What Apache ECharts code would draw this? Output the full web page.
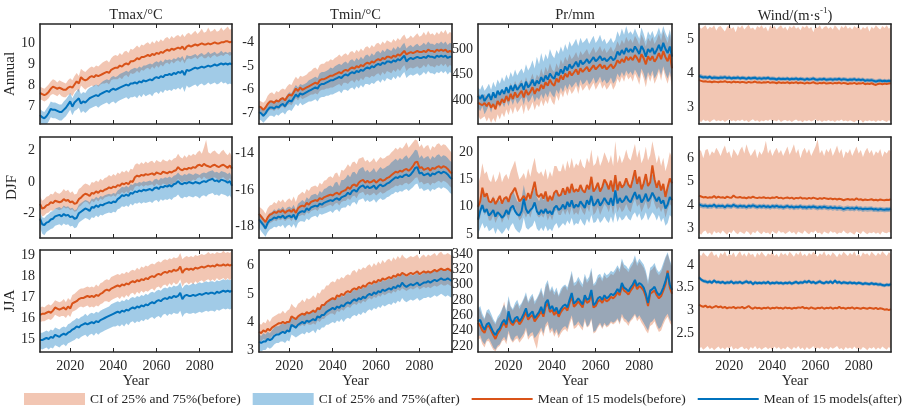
<!DOCTYPE html>
<html><head><meta charset="utf-8">
<script src="https://cdn.jsdelivr.net/npm/echarts@6/dist/echarts.min.js"></script>
<style>html,body{margin:0;padding:0;background:#fff}#c{width:909px;height:412px}</style>
</head><body><div id="c"></div>
<script>
const years = [2006,2007,2008,2009,2010,2011,2012,2013,2014,2015,2016,2017,2018,2019,2020,2021,2022,2023,2024,2025,2026,2027,2028,2029,2030,2031,2032,2033,2034,2035,2036,2037,2038,2039,2040,2041,2042,2043,2044,2045,2046,2047,2048,2049,2050,2051,2052,2053,2054,2055,2056,2057,2058,2059,2060,2061,2062,2063,2064,2065,2066,2067,2068,2069,2070,2071,2072,2073,2074,2075,2076,2077,2078,2079,2080,2081,2082,2083,2084,2085,2086,2087,2088,2089,2090,2091,2092,2093,2094,2095];
const xTicks = [2020, 2040, 2060, 2080];
const rowNames = ['Annual', 'DJF', 'JJA'];
const legendNames = ['CI of 25% and 75%(before)', 'CI of 25% and 75%(after)', 'Mean of 15 models(before)', 'Mean of 15 models(after)'];

// y tick labels
const tmaxAnnTicks = [7, 8, 9, 10];
const tminAnnTicks = [-7, -6, -5, -4];
const prAnnTicks = [400, 450, 500];
const windAnnTicks = [3, 4, 5];
const tmaxDjfTicks = [-2, 0, 2];
const tminDjfTicks = [-18, -16, -14];
const prDjfTicks = [5, 10, 15, 20];
const windDjfTicks = [3, 4, 5, 6];
const tmaxJjaTicks = [15, 16, 17, 18, 19];
const tminJjaTicks = [3, 4, 5, 6];
const prJjaTicks = [220, 240, 260, 280, 300, 320, 340];
const windJjaTicks = [2.5, 3, 3.5, 4];

// ---------- Tmax Annual ----------
const tmaxAnnMB = [7.65,7.6,7.55,7.6,7.7,7.85,7.95,7.9,7.85,7.9, 7.85,7.8,7.8,7.9,7.95,7.9,8.05,8.2,8.1,8.4, 8.3,8.25,8.3,8.4,8.45,8.4,8.5,8.45,8.5,8.55, 8.6,8.65,8.6,8.75,8.8,8.85,8.85,8.95,8.9,9.0, 9.05,9.0,9.15,9.15,9.2,9.3,9.25,9.35,9.35,9.4, 9.45,9.4,9.5,9.45,9.55,9.5,9.6,9.55,9.65,9.7, 9.65,9.75,9.7,9.75,9.8,9.75,9.85,9.7,9.85,9.9, 9.85,9.9,9.95,9.9,9.95,10.0,9.95,9.95,10.0,9.95, 10.0,10.05,10.0,10.0,10.05,10.05,10.1,10.1,10.05,10.1];
const tmaxAnnHB = [7.95,7.9,7.85,7.95,8.05,8.2,8.3,8.25,8.15,8.25, 8.2,8.15,8.1,8.25,8.35,8.25,8.45,8.6,8.45,8.8, 8.7,8.65,8.75,8.85,8.9,8.85,8.95,8.9,9.0,9.1, 9.15,9.2,9.1,9.3,9.4,9.45,9.4,9.55,9.45,9.6, 9.65,9.55,9.75,9.7,9.8,9.9,9.8,9.95,9.9,10.0, 10.05,9.95,10.1,10.0,10.15,10.05,10.2,10.1,10.25,10.3, 10.2,10.35,10.25,10.35,10.4,10.3,10.45,10.3,10.45,10.5, 10.4,10.5,10.6,10.45,10.55,10.7,10.5,10.55,10.75,10.55, 10.6,10.7,10.55,10.6,10.75,10.6,10.7,10.8,10.65,10.7];
const tmaxAnnLB = [7.35,7.3,7.25,7.3,7.4,7.55,7.6,7.55,7.5,7.6, 7.5,7.45,7.45,7.55,7.6,7.5,7.7,7.8,7.7,8.0, 7.9,7.8,7.9,7.95,8.0,7.95,8.05,7.95,8.05,8.1, 8.1,8.15,8.05,8.25,8.3,8.3,8.3,8.4,8.3,8.45, 8.5,8.4,8.6,8.55,8.6,8.7,8.6,8.75,8.7,8.8, 8.85,8.75,8.9,8.8,8.95,8.85,9.0,8.9,9.05,9.1, 9.0,9.15,9.05,9.15,9.2,9.1,9.25,9.05,9.25,9.3, 9.25,9.3,9.35,9.25,9.35,9.4,9.3,9.3,9.4,9.3, 9.4,9.45,9.35,9.4,9.45,9.4,9.5,9.5,9.4,9.5];
const tmaxAnnMA = [6.6,6.5,6.45,6.55,6.7,6.9,6.85,6.85,6.8,6.75, 6.75,6.85,6.95,7.1,7.25,7.0,7.2,7.3,7.4,7.15, 7.25,7.2,7.3,7.4,7.45,7.5,7.55,7.5,7.6,7.65, 7.7,7.75,7.7,7.8,7.85,7.8,7.85,7.9,7.95,8.0, 8.05,8.0,8.1,8.1,8.15,8.1,8.2,8.15,8.25,8.2, 8.25,8.3,8.25,8.35,8.4,8.35,8.45,8.4,8.5,8.5, 8.55,8.5,8.6,8.55,8.65,8.6,8.7,8.5,8.75,8.7, 8.75,8.8,8.85,8.8,8.85,8.9,8.85,8.9,8.95,8.9, 8.95,9.0,8.95,9.0,9.05,9.0,9.05,9.0,9.05,9.0];
const tmaxAnnHA = [6.9,6.8,6.75,6.9,7.05,7.25,7.2,7.2,7.15,7.1, 7.1,7.25,7.35,7.5,7.65,7.4,7.6,7.75,7.85,7.6, 7.7,7.65,7.8,7.9,7.95,8.0,8.05,8.0,8.1,8.2, 8.25,8.3,8.25,8.4,8.45,8.4,8.45,8.55,8.6,8.65, 8.7,8.65,8.75,8.8,8.85,8.8,8.9,8.85,8.95,8.95, 9.0,9.05,9.0,9.1,9.15,9.1,9.2,9.1,9.25,9.2, 9.25,9.2,9.3,9.25,9.35,9.3,9.4,9.2,9.45,9.4, 9.4,9.45,9.5,9.4,9.5,9.55,9.45,9.5,9.6,9.5, 9.55,9.6,9.5,9.55,9.65,9.55,9.6,9.55,9.6,9.55];
const tmaxAnnLA = [6.2,6.1,6.05,6.15,6.3,6.5,6.45,6.45,6.4,6.35, 6.35,6.45,6.55,6.7,6.85,6.6,6.8,6.85,6.95,6.7, 6.8,6.7,6.8,6.9,6.95,7.0,7.05,6.95,7.05,7.1, 7.15,7.2,7.1,7.2,7.25,7.15,7.25,7.3,7.35,7.4, 7.45,7.35,7.45,7.45,7.5,7.4,7.55,7.45,7.6,7.5, 7.55,7.6,7.5,7.65,7.7,7.6,7.75,7.65,7.8,7.75, 7.8,7.75,7.85,7.8,7.9,7.8,7.95,7.7,8.0,7.9, 7.95,8.0,8.05,7.95,8.05,8.1,8.0,8.05,8.15,8.05, 8.1,8.15,8.05,8.1,8.2,8.1,8.15,8.05,8.1,8.05];

// ---------- Tmin Annual ----------
const tminAnnMB = [-6.7,-6.75,-6.85,-6.75,-6.6,-6.5,-6.5,-6.55,-6.45,-6.5, -6.4,-6.35,-6.45,-6.3,-6.2,-6.25,-6.1,-5.95,-6.05,-5.9, -6.0,-5.95,-5.9,-5.85,-5.8,-5.75,-5.7,-5.75,-5.6,-5.55, -5.55,-5.5,-5.45,-5.4,-5.4,-5.35,-5.3,-5.25,-5.3,-5.2, -5.15,-5.2,-5.1,-5.05,-5.1,-5.0,-5.05,-4.95,-5.0,-4.9, -4.85,-4.9,-4.8,-4.85,-4.75,-4.7,-4.75,-4.65,-4.7,-4.6, -4.6,-4.65,-4.55,-4.6,-4.5,-4.55,-4.45,-4.35,-4.5,-4.45, -4.4,-4.45,-4.4,-4.35,-4.4,-4.4,-4.35,-4.4,-4.3,-4.35, -4.35,-4.4,-4.3,-4.35,-4.3,-4.35,-4.3,-4.4,-4.35,-4.4];
const tminAnnHB = [-6.45,-6.5,-6.55,-6.45,-6.25,-6.15,-6.1,-6.2,-6.05,-6.1, -6.0,-5.95,-6.0,-5.85,-5.75,-5.8,-5.6,-5.45,-5.55,-5.4, -5.45,-5.4,-5.35,-5.25,-5.2,-5.1,-5.05,-5.15,-4.95,-4.9, -4.9,-4.8,-4.8,-4.7,-4.75,-4.65,-4.6,-4.5,-4.6,-4.5, -4.45,-4.55,-4.4,-4.35,-4.45,-4.3,-4.4,-4.25,-4.35,-4.2, -4.15,-4.25,-4.1,-4.2,-4.05,-4.0,-4.1,-3.95,-4.05,-3.9, -3.95,-4.0,-3.85,-3.95,-3.8,-3.9,-3.75,-3.65,-3.85,-3.8, -3.7,-3.8,-3.7,-3.6,-3.75,-3.7,-3.55,-3.7,-3.5,-3.65, -3.6,-3.7,-3.55,-3.65,-3.5,-3.6,-3.45,-3.65,-3.55,-3.6];
const tminAnnLB = [-6.95,-7.05,-7.15,-7.05,-6.95,-6.85,-6.85,-6.9,-6.8,-6.85, -6.75,-6.7,-6.8,-6.65,-6.6,-6.65,-6.5,-6.35,-6.45,-6.3, -6.4,-6.35,-6.3,-6.25,-6.2,-6.2,-6.15,-6.2,-6.05,-6.0, -6.0,-5.95,-5.95,-5.9,-5.9,-5.85,-5.8,-5.75,-5.85,-5.7, -5.7,-5.75,-5.65,-5.6,-5.7,-5.55,-5.65,-5.5,-5.6,-5.45, -5.45,-5.5,-5.4,-5.45,-5.35,-5.3,-5.4,-5.25,-5.35,-5.2, -5.25,-5.3,-5.15,-5.25,-5.1,-5.2,-5.05,-4.95,-5.2,-5.1, -5.05,-5.1,-5.05,-5.0,-5.1,-5.05,-4.95,-5.05,-4.9,-5.0, -5.0,-5.05,-4.95,-5.0,-4.9,-5.0,-4.9,-5.05,-4.95,-5.0];
const tminAnnMA = [-6.95,-7.0,-7.1,-7.0,-6.85,-6.75,-6.75,-6.8,-6.7,-6.75, -6.65,-6.6,-6.7,-6.55,-6.45,-6.5,-6.35,-6.2,-6.3,-6.15, -6.2,-6.15,-6.1,-6.05,-6.0,-5.95,-5.9,-5.95,-5.8,-5.75, -5.75,-5.7,-5.65,-5.6,-5.6,-5.55,-5.5,-5.45,-5.5,-5.4, -5.35,-5.4,-5.3,-5.25,-5.3,-5.2,-5.25,-5.15,-5.2,-5.1, -5.05,-5.1,-5.0,-5.05,-4.95,-4.9,-4.95,-4.85,-4.9,-4.8, -4.8,-4.85,-4.75,-4.8,-4.7,-4.75,-4.65,-4.55,-4.8,-4.7, -4.65,-4.7,-4.65,-4.6,-4.65,-4.65,-4.6,-4.65,-4.55,-4.6, -4.6,-4.65,-4.55,-4.6,-4.55,-4.6,-4.55,-4.65,-4.6,-4.6];
const tminAnnHA = [-6.7,-6.75,-6.85,-6.7,-6.55,-6.45,-6.45,-6.5,-6.4,-6.45, -6.35,-6.3,-6.4,-6.2,-6.1,-6.15,-5.95,-5.8,-5.9,-5.75, -5.8,-5.75,-5.7,-5.6,-5.55,-5.5,-5.45,-5.5,-5.3,-5.25, -5.25,-5.2,-5.15,-5.05,-5.1,-5.0,-4.95,-4.9,-4.95,-4.85, -4.8,-4.9,-4.75,-4.7,-4.8,-4.65,-4.75,-4.6,-4.7,-4.55, -4.5,-4.6,-4.45,-4.55,-4.4,-4.35,-4.45,-4.3,-4.4,-4.25, -4.3,-4.35,-4.2,-4.3,-4.15,-4.25,-4.1,-4.0,-4.25,-4.15, -4.1,-4.2,-4.1,-4.05,-4.15,-4.1,-4.0,-4.1,-3.95,-4.05, -4.05,-4.1,-4.0,-4.05,-3.95,-4.05,-3.95,-4.1,-4.0,-4.05];
const tminAnnLA = [-7.25,-7.3,-7.4,-7.3,-7.2,-7.1,-7.1,-7.15,-7.05,-7.1, -7.0,-6.95,-7.05,-6.9,-6.85,-6.9,-6.75,-6.6,-6.7,-6.55, -6.65,-6.6,-6.55,-6.5,-6.5,-6.45,-6.4,-6.5,-6.35,-6.3, -6.3,-6.25,-6.25,-6.2,-6.2,-6.15,-6.1,-6.05,-6.15,-6.0, -6.0,-6.05,-5.95,-5.9,-6.0,-5.85,-5.95,-5.8,-5.9,-5.75, -5.75,-5.8,-5.7,-5.75,-5.65,-5.6,-5.7,-5.55,-5.65,-5.5, -5.55,-5.6,-5.45,-5.55,-5.4,-5.5,-5.35,-5.25,-5.5,-5.4, -5.35,-5.4,-5.35,-5.3,-5.4,-5.35,-5.25,-5.35,-5.2,-5.3, -5.3,-5.35,-5.25,-5.3,-5.2,-5.3,-5.2,-5.35,-5.25,-5.3];

// ---------- Pr Annual ----------
const prAnnMB = [395,392,390,394,388,395,385,392,382,398, 390,402,395,408,398,412,402,415,405,412, 418,405,420,410,416,425,412,422,418,430, 422,435,428,440,432,428,442,435,448,440, 452,445,456,448,454,460,450,462,455,460, 465,456,462,468,460,465,470,462,468,460, 465,470,462,468,478,472,480,474,485,478, 484,478,488,482,474,490,482,470,486,478, 486,475,482,492,480,496,484,476,490,462];
const prAnnHB = [412,410,406,412,404,414,402,410,400,416, 408,422,414,428,418,434,422,438,426,434, 440,426,445,432,440,452,436,450,444,462, 448,465,455,472,460,455,472,462,480,470, 485,476,490,480,486,494,482,496,488,494, 500,488,496,504,492,498,506,494,502,492, 498,505,494,502,515,506,518,510,524,514, 520,512,526,518,508,528,518,505,522,514, 524,510,518,530,516,535,522,512,530,505];
const prAnnLB = [370,362,365,368,358,366,355,365,356,372, 362,375,366,382,370,385,372,388,376,382, 390,372,392,378,385,396,380,392,386,400, 388,400,392,408,396,390,410,398,415,405, 420,408,422,412,418,428,412,430,418,424, 430,418,426,434,420,428,436,422,430,420, 426,434,420,428,442,434,446,436,450,440, 446,436,452,442,430,455,442,425,448,436, 450,432,442,456,438,460,444,432,450,425];
const prAnnMA = [408,402,410,398,405,412,400,415,404,418, 410,420,412,425,414,428,418,430,420,426, 432,420,436,425,430,440,428,438,432,445, 436,448,440,452,445,442,455,448,460,452, 466,458,470,462,468,475,465,478,470,474, 480,472,478,484,476,480,486,478,482,476, 480,485,478,482,495,488,498,490,502,494, 500,494,505,498,490,506,498,485,500,494, 502,490,498,508,496,512,500,492,505,485];
const prAnnHA = [425,420,430,418,424,432,420,436,425,440, 432,445,436,450,440,455,445,460,448,456, 462,452,470,458,465,478,462,485,470,492, 475,490,480,500,488,482,498,490,505,494, 510,498,515,505,512,520,506,522,512,516, 522,510,518,526,512,518,528,514,520,510, 515,522,512,518,535,524,540,528,545,530, 535,528,540,530,520,542,530,515,535,526, 536,522,530,542,528,545,532,522,538,515];
const prAnnLA = [385,378,388,372,380,390,375,392,380,395, 385,395,386,400,388,402,390,404,392,398, 405,390,408,395,400,410,396,406,400,412, 402,414,405,418,410,405,420,412,425,415, 430,420,432,424,430,436,424,440,430,434, 440,430,436,444,432,438,446,434,440,432, 436,444,432,438,452,444,455,446,458,450, 456,448,460,452,442,462,452,438,455,446, 458,442,450,462,448,466,452,442,456,435];

// ---------- Wind Annual ----------
const windAnnMB = [3.8,3.78,3.76,3.77,3.75,3.76,3.74,3.76,3.75,3.74, 3.76,3.75,3.77,3.74,3.75,3.73,3.76,3.74,3.75,3.73, 3.75,3.74,3.72,3.75,3.73,3.74,3.76,3.73,3.74,3.72, 3.74,3.73,3.75,3.72,3.74,3.73,3.71,3.74,3.72,3.73, 3.72,3.74,3.71,3.73,3.72,3.74,3.71,3.73,3.72,3.7, 3.73,3.71,3.72,3.74,3.71,3.7,3.72,3.71,3.73,3.7, 3.71,3.72,3.7,3.72,3.71,3.73,3.7,3.72,3.71,3.69, 3.71,3.7,3.72,3.69,3.71,3.7,3.72,3.68,3.7,3.69, 3.71,3.68,3.66,3.69,3.7,3.68,3.7,3.69,3.7,3.71];
const windAnnHB = [5.38,5.3,5.35,5.4,5.28,5.36,5.32,5.4,5.25,5.35, 5.38,5.3,5.22,5.36,5.4,5.3,5.35,5.2,5.38,5.32, 5.4,5.28,5.35,5.42,5.3,5.34,5.26,5.38,5.33,5.4, 5.3,5.36,5.22,5.4,5.32,5.38,5.28,5.35,5.4,5.3, 5.36,5.25,5.38,5.32,5.4,5.3,5.35,5.26,5.38,5.33, 5.4,5.3,5.36,5.2,5.38,5.32,5.4,5.28,5.35,5.38, 5.3,5.36,5.28,5.4,5.33,5.25,5.38,5.32,5.4,5.3, 5.35,5.28,5.38,5.32,5.4,5.26,5.35,5.3,5.38,5.22, 5.36,5.3,5.4,5.33,5.28,5.38,5.32,5.4,5.3,5.36];
const windAnnLB = [2.62,2.58,2.65,2.6,2.63,2.57,2.62,2.66,2.6,2.63, 2.6,2.64,2.58,2.62,2.66,2.6,2.63,2.59,2.64,2.61, 2.65,2.6,2.63,2.57,2.62,2.66,2.6,2.63,2.58,2.62, 2.6,2.64,2.61,2.66,2.59,2.63,2.6,2.65,2.58,2.62, 2.64,2.6,2.63,2.58,2.62,2.65,2.6,2.62,2.57,2.63, 2.6,2.64,2.59,2.62,2.66,2.6,2.63,2.58,2.62,2.6, 2.64,2.6,2.62,2.58,2.63,2.61,2.65,2.6,2.62,2.59, 2.63,2.6,2.57,2.62,2.6,2.64,2.56,2.62,2.6,2.63, 2.6,2.62,2.58,2.63,2.6,2.64,2.61,2.58,2.63,2.6];
const windAnnMA = [3.92,3.9,3.88,3.89,3.87,3.9,3.86,3.88,3.87,3.86, 3.88,3.87,3.89,3.86,3.88,3.85,3.87,3.86,3.88,3.85, 3.87,3.86,3.84,3.87,3.85,3.86,3.87,3.84,3.86,3.84, 3.86,3.85,3.87,3.84,3.85,3.84,3.82,3.85,3.83,3.84, 3.83,3.85,3.82,3.84,3.83,3.85,3.82,3.84,3.83,3.81, 3.84,3.82,3.83,3.85,3.82,3.81,3.83,3.82,3.84,3.81, 3.82,3.83,3.81,3.83,3.82,3.84,3.81,3.83,3.82,3.8, 3.82,3.81,3.83,3.8,3.82,3.8,3.82,3.78,3.8,3.79, 3.8,3.78,3.76,3.78,3.79,3.77,3.78,3.77,3.78,3.77];
const windAnnHA = [3.98,3.97,3.94,3.95,3.93,3.96,3.92,3.94,3.93,3.92, 3.94,3.93,3.95,3.92,3.94,3.91,3.93,3.92,3.94,3.91, 3.93,3.92,3.9,3.93,3.91,3.92,3.93,3.9,3.92,3.9, 3.92,3.91,3.93,3.9,3.91,3.9,3.88,3.91,3.89,3.9, 3.89,3.91,3.88,3.9,3.89,3.91,3.88,3.9,3.89,3.87, 3.9,3.88,3.89,3.91,3.88,3.87,3.89,3.88,3.9,3.87, 3.88,3.89,3.87,3.89,3.88,3.9,3.87,3.89,3.88,3.86, 3.88,3.87,3.89,3.86,3.88,3.86,3.88,3.84,3.86,3.85, 3.86,3.84,3.82,3.84,3.85,3.83,3.84,3.83,3.84,3.83];
const windAnnLA = [3.86,3.84,3.82,3.83,3.81,3.84,3.8,3.82,3.81,3.8, 3.82,3.81,3.83,3.8,3.82,3.79,3.81,3.8,3.82,3.79, 3.81,3.8,3.78,3.81,3.79,3.8,3.81,3.78,3.8,3.78, 3.8,3.79,3.81,3.78,3.79,3.78,3.76,3.79,3.77,3.78, 3.77,3.79,3.76,3.78,3.77,3.79,3.76,3.78,3.77,3.75, 3.78,3.76,3.77,3.79,3.76,3.75,3.77,3.76,3.78,3.75, 3.76,3.77,3.75,3.77,3.76,3.78,3.75,3.77,3.76,3.74, 3.76,3.75,3.77,3.74,3.76,3.74,3.76,3.72,3.74,3.73, 3.74,3.72,3.7,3.72,3.73,3.71,3.72,3.71,3.72,3.71];

// ---------- Tmax DJF ----------
const tmaxDjfMB = [-1.4,-1.7,-1.65,-1.5,-1.45,-1.3,-1.35,-1.2,-1.25,-1.3, -1.25,-1.1,-1.2,-1.15,-1.3,-1.25,-1.4,-1.35,-1.1,-1.0, -0.85,-0.75,-0.8,-0.9,-0.7,-0.75,-0.6,-0.7,-0.55,-0.6, -0.5,-0.45,-0.35,-0.4,-0.3,-0.35,-0.2,-0.25,-0.1,-0.15, -0.05,-0.15,0.05,0.0,0.3,0.4,0.35,0.45,0.4,0.5, 0.45,0.5,0.55,0.45,0.6,0.55,0.5,0.65,0.6,0.55, 0.65,0.6,0.7,0.75,0.95,0.8,0.75,0.85,0.8,0.9, 0.85,0.95,0.9,1.05,1.1,1.0,1.15,1.05,1.0,0.95, 1.05,1.1,1.0,0.95,1.05,1.1,1.0,0.9,1.05,0.85];
const tmaxDjfHB = [-0.9,-1.2,-1.1,-0.95,-0.9,-0.75,-0.8,-0.6,-0.7,-0.75, -0.65,-0.45,-0.6,-0.5,-0.7,-0.6,-0.8,-0.75,-0.45,-0.35, -0.2,-0.1,-0.15,-0.25,0.0,-0.05,0.1,0.0,0.2,0.1, 0.25,0.3,0.45,0.35,0.5,0.4,0.6,0.5,0.7,0.6, 0.75,0.6,0.85,0.8,1.1,1.2,1.1,1.25,1.15,1.3, 1.2,1.3,1.35,1.2,1.4,1.3,1.25,1.45,1.35,1.3, 1.45,1.35,1.5,1.55,1.8,1.6,1.5,1.7,1.55,1.75, 1.65,1.8,1.7,1.9,2.0,1.8,2.2,2.7,1.9,1.8, 1.95,2.0,1.85,1.75,1.95,2.05,1.85,1.7,1.9,1.6];
const tmaxDjfLB = [-1.9,-2.2,-2.15,-2.0,-1.95,-1.8,-1.85,-1.7,-1.75,-1.8, -1.75,-1.6,-1.7,-1.65,-1.8,-1.75,-1.9,-1.85,-1.6,-1.5, -1.35,-1.25,-1.3,-1.45,-1.2,-1.3,-1.1,-1.25,-1.05,-1.15, -1.0,-0.95,-0.9,-0.95,-0.85,-0.95,-0.75,-0.8,-0.65,-0.75, -0.6,-0.75,-0.5,-0.6,-0.3,-0.25,-0.3,-0.2,-0.3,-0.2, -0.25,-0.2,-0.15,-0.3,-0.1,-0.2,-0.25,-0.1,-0.15,-0.25, -0.1,-0.2,-0.05,0.0,0.2,0.05,-0.05,0.1,0.0,0.1, 0.05,0.15,0.1,0.25,0.3,0.15,0.35,0.2,0.2,0.1, 0.25,0.3,0.2,0.1,0.25,0.3,0.15,0.05,0.25,0.0];
const tmaxDjfMA = [-2.35,-2.7,-2.75,-2.6,-2.55,-2.4,-2.35,-2.2,-2.15,-2.1, -2.2,-2.05,-2.15,-2.1,-2.25,-2.2,-2.35,-2.3,-2.0,-1.9, -1.8,-1.7,-1.75,-1.85,-1.6,-1.65,-1.5,-1.6,-1.45,-1.5, -1.4,-1.35,-1.3,-1.35,-1.25,-1.3,-1.1,-1.0,-0.85,-0.9, -0.8,-0.9,-0.7,-0.75,-0.6,-0.65,-0.55,-0.6,-0.5,-0.55, -0.5,-0.45,-0.55,-0.4,-0.35,-0.45,-0.3,-0.35,-0.25,-0.3, -0.2,-0.3,-0.15,-0.1,0.05,-0.1,-0.15,-0.05,-0.1,0.0, -0.05,-0.1,0.0,-0.05,-0.1,0.0,0.05,0.0,0.1,0.15, 0.2,0.05,0.1,0.0,0.15,0.1,0.05,-0.05,0.05,-0.25];
const tmaxDjfHA = [-1.9,-2.25,-2.3,-2.15,-2.05,-1.9,-1.85,-1.7,-1.65,-1.6, -1.7,-1.5,-1.6,-1.55,-1.7,-1.65,-1.8,-1.75,-1.45,-1.35, -1.25,-1.15,-1.2,-1.3,-1.05,-1.1,-0.95,-1.05,-0.9,-0.95, -0.85,-0.8,-0.75,-0.8,-0.7,-0.75,-0.55,-0.45,-0.3,-0.35, -0.25,-0.35,-0.15,-0.2,-0.05,-0.1,0.0,-0.05,0.05,0.0, 0.05,0.1,0.0,0.15,0.2,0.1,0.25,0.2,0.3,0.25, 0.35,0.25,0.4,0.45,0.6,0.45,0.4,0.5,0.45,0.55, 0.5,0.45,0.55,0.5,0.45,0.55,0.6,0.55,0.65,0.7, 0.75,0.6,0.65,0.55,0.7,0.65,0.6,0.5,0.6,0.3];
const tmaxDjfLA = [-2.9,-3.3,-3.4,-3.2,-3.1,-3.0,-2.95,-2.8,-2.75,-2.7, -2.8,-2.65,-2.75,-2.7,-2.85,-2.8,-2.95,-2.9,-2.6,-2.5, -2.4,-2.3,-2.35,-2.45,-2.25,-2.3,-2.15,-2.25,-2.1,-2.15, -2.05,-2.0,-1.95,-2.0,-1.9,-1.95,-1.75,-1.7,-1.55,-1.6, -1.5,-1.6,-1.4,-1.5,-1.35,-1.4,-1.3,-1.4,-1.3,-1.35, -1.3,-1.25,-1.35,-1.2,-1.15,-1.3,-1.1,-1.2,-1.1,-1.15, -1.05,-1.15,-1.0,-0.95,-0.8,-1.0,-1.05,-0.95,-1.0,-0.9, -0.95,-1.0,-0.9,-0.95,-1.05,-0.9,-0.85,-0.95,-0.8,-0.75, -0.7,-0.85,-0.8,-0.9,-0.75,-0.8,-0.85,-0.95,-0.85,-1.15];

// ---------- Tmin DJF ----------
const tminDjfMB = [-17.3,-17.45,-17.6,-17.75,-17.5,-17.35,-17.3,-17.2,-17.25,-17.15, -17.2,-17.1,-17.25,-17.15,-17.1,-17.2,-17.05,-17.25,-17.0,-16.9, -16.85,-16.9,-16.7,-16.8,-16.65,-16.6,-16.55,-16.6,-16.45,-16.5, -16.4,-16.35,-16.3,-16.25,-16.3,-16.2,-16.15,-16.25,-16.1,-16.05, -16.0,-15.85,-15.95,-15.75,-15.7,-15.8,-15.6,-15.5,-15.45,-15.6, -15.5,-15.6,-15.55,-15.45,-15.6,-15.5,-15.4,-15.5,-15.45,-15.35, -15.3,-15.2,-15.1,-15.0,-15.05,-14.95,-15.0,-14.9,-14.85,-14.95, -14.85,-14.7,-14.5,-14.45,-14.8,-14.75,-14.9,-14.85,-14.8,-14.95, -14.8,-14.85,-14.75,-14.7,-14.8,-14.7,-14.75,-14.85,-15.0,-15.1];
const tminDjfHB = [-16.9,-17.0,-17.1,-17.3,-17.0,-16.85,-16.8,-16.65,-16.75,-16.55, -16.65,-16.5,-16.7,-16.55,-16.45,-16.6,-16.35,-16.65,-16.3,-16.2, -16.1,-16.2,-15.95,-16.05,-15.85,-15.8,-15.75,-15.85,-15.6,-15.7, -15.5,-15.45,-15.3,-15.25,-15.35,-15.1,-15.05,-15.3,-14.9,-14.95, -14.8,-14.6,-14.75,-14.5,-14.45,-14.6,-14.3,-14.25,-14.2,-14.45, -14.35,-14.5,-14.4,-14.25,-14.5,-14.35,-14.2,-14.3,-14.25,-14.15, -14.1,-13.95,-13.85,-13.7,-13.8,-13.65,-13.75,-13.6,-13.4,-13.7, -13.55,-13.4,-13.25,-13.3,-13.65,-13.5,-13.75,-13.6,-13.55,-13.85, -13.6,-13.7,-13.5,-13.45,-13.6,-13.5,-13.55,-13.7,-13.85,-14.0];
const tminDjfLB = [-17.7,-17.9,-18.05,-18.2,-17.95,-17.8,-17.75,-17.65,-17.7,-17.6, -17.65,-17.55,-17.7,-17.6,-17.55,-17.7,-17.5,-17.75,-17.45,-17.4, -17.35,-17.4,-17.2,-17.3,-17.15,-17.1,-17.05,-17.15,-16.95,-17.0, -16.95,-16.9,-16.85,-16.8,-16.9,-16.75,-16.7,-16.85,-16.65,-16.6, -16.6,-16.45,-16.55,-16.35,-16.3,-16.45,-16.2,-16.15,-16.1,-16.3, -16.2,-16.3,-16.25,-16.15,-16.3,-16.2,-16.1,-16.2,-16.15,-16.05, -16.0,-15.9,-15.85,-15.75,-15.8,-15.7,-15.75,-15.65,-15.6,-15.7, -15.6,-15.5,-15.35,-15.3,-15.6,-15.55,-15.7,-15.65,-15.6,-15.75, -15.6,-15.65,-15.55,-15.5,-15.6,-15.5,-15.55,-15.65,-15.8,-15.9];
const tminDjfMA = [-17.6,-17.75,-17.9,-18.1,-17.8,-17.65,-17.6,-17.5,-17.55,-17.45, -17.5,-17.4,-17.55,-17.45,-17.4,-17.5,-17.35,-17.6,-17.3,-17.2, -17.15,-17.2,-17.0,-17.1,-16.95,-16.9,-16.85,-16.9,-16.75,-16.8, -16.7,-16.65,-16.6,-16.55,-16.6,-16.5,-16.45,-16.55,-16.4,-16.35, -16.3,-16.15,-16.25,-16.05,-16.0,-16.1,-15.9,-15.8,-15.75,-15.9, -15.8,-15.9,-15.85,-15.75,-15.95,-15.8,-15.7,-15.8,-15.75,-15.65, -15.6,-15.5,-15.4,-15.3,-15.35,-15.25,-15.3,-15.2,-15.15,-15.25, -15.15,-15.0,-14.8,-14.75,-15.1,-15.05,-15.2,-15.15,-15.1,-15.25, -15.1,-15.15,-15.05,-15.0,-15.1,-15.0,-15.05,-15.15,-15.3,-15.4];
const tminDjfHA = [-17.25,-17.35,-17.5,-17.7,-17.4,-17.25,-17.2,-17.05,-17.15,-17.0, -17.05,-16.9,-17.1,-16.95,-16.9,-17.0,-16.8,-17.1,-16.75,-16.65, -16.55,-16.65,-16.4,-16.5,-16.3,-16.25,-16.2,-16.3,-16.05,-16.15, -15.95,-15.9,-15.8,-15.75,-15.85,-15.6,-15.55,-15.8,-15.45,-15.45, -15.35,-15.15,-15.3,-15.05,-15.0,-15.15,-14.9,-14.8,-14.75,-15.0, -14.9,-15.05,-14.95,-14.8,-15.05,-14.9,-14.75,-14.85,-14.8,-14.7, -14.65,-14.5,-14.4,-14.3,-14.4,-14.25,-14.35,-14.2,-14.1,-14.3, -14.15,-14.0,-13.8,-13.85,-14.25,-14.1,-14.3,-14.2,-14.15,-14.35, -14.15,-14.25,-14.1,-14.05,-14.2,-14.1,-14.15,-14.25,-14.4,-14.5];
const tminDjfLA = [-18.05,-18.25,-18.4,-18.55,-18.3,-18.15,-18.1,-18.0,-18.05,-17.95, -18.0,-17.9,-18.1,-17.95,-17.9,-18.05,-17.85,-18.1,-17.8,-17.7, -17.7,-17.75,-17.55,-17.65,-17.5,-17.45,-17.4,-17.5,-17.3,-17.35, -17.3,-17.25,-17.2,-17.15,-17.25,-17.1,-17.05,-17.2,-17.0,-16.95, -16.95,-16.8,-16.9,-16.7,-16.65,-16.8,-16.55,-16.5,-16.45,-16.65, -16.55,-16.65,-16.6,-16.5,-16.7,-16.55,-16.45,-16.55,-16.5,-16.4, -16.35,-16.25,-16.2,-16.1,-16.15,-16.05,-16.1,-16.0,-15.95,-16.05, -15.95,-15.85,-15.7,-15.65,-15.95,-15.9,-16.05,-16.0,-15.95,-16.1, -15.95,-16.0,-15.9,-15.85,-15.95,-15.85,-15.9,-16.0,-16.15,-16.25];

// ---------- Pr DJF ----------
const prDjfMB = [10.0,11.0,13.5,11.8,12.5,11.0,10.8,11.6,10.5,11.2, 12.0,10.6,11.5,11.8,10.9,12.2,12.8,13.5,12.2,11.0, 11.4,12.0,11.2,12.5,11.5,13.0,14.6,12.2,11.8,12.4, 11.5,12.8,11.0,12.0,11.2,12.6,13.0,12.0,12.2,13.4, 12.2,13.6,12.5,14.2,12.7,13.2,12.8,14.0,13.0,12.6, 14.0,13.2,15.5,12.8,13.4,14.4,12.8,13.6,15.0,14.3, 13.2,14.8,12.8,15.8,13.0,14.6,13.5,14.0,15.2,14.0, 13.5,15.0,16.7,14.2,15.5,13.2,14.3,16.0,13.8,14.5, 17.6,15.0,13.5,14.8,13.0,14.2,11.8,13.6,15.2,14.3];
const prDjfHB = [14.0,15.5,18.0,16.0,16.5,15.0,14.5,16.0,14.5,15.2, 16.5,14.5,15.5,16.0,15.0,16.5,17.5,18.5,16.5,15.0, 15.5,16.2,15.0,17.0,15.5,17.5,19.0,16.5,16.0,16.5, 15.5,17.0,15.0,16.5,15.5,17.5,17.5,16.5,16.5,18.0, 16.5,18.5,17.0,19.0,17.0,18.0,17.5,18.8,17.5,17.0, 19.0,18.0,20.5,17.5,18.0,19.5,17.5,18.5,20.0,19.0, 18.0,19.5,17.5,22.0,18.0,19.5,18.0,19.0,20.5,19.0, 18.5,20.0,21.5,19.0,20.5,18.0,19.0,21.0,18.5,19.5, 22.0,20.0,18.0,19.5,17.5,19.0,16.5,18.0,20.0,19.0];
const prDjfLB = [7.0,8.0,10.0,8.5,9.0,7.5,7.5,8.5,7.0,8.0, 8.5,7.0,8.0,8.5,7.5,9.0,9.5,10.0,8.5,7.5, 8.0,9.0,8.0,9.0,8.0,9.5,11.0,8.5,8.0,8.5, 8.0,9.0,7.5,8.5,7.5,9.0,9.5,8.5,8.5,9.5, 8.5,9.5,8.5,10.0,8.5,9.0,8.5,10.0,9.0,8.5, 10.0,9.0,11.0,8.5,9.0,10.0,8.5,9.5,10.5,10.0, 9.0,10.5,8.5,11.0,9.0,10.0,9.0,9.5,10.5,9.5, 9.0,10.5,11.5,10.0,10.5,9.0,10.0,11.0,9.5,10.0, 12.0,10.5,9.5,10.0,9.0,10.0,8.0,9.5,10.5,10.0];
const prDjfMA = [7.6,9.2,10.3,9.0,9.6,8.4,8.8,9.4,8.2,9.0, 8.6,8.0,8.4,9.4,8.6,9.8,10.2,9.2,8.6,8.4, 9.2,11.5,9.6,8.8,9.4,9.8,10.8,9.2,8.6,9.4, 8.8,9.6,8.8,9.2,8.6,9.8,10.2,9.4,9.7,10.4, 9.6,10.9,10.0,11.2,9.8,10.4,10.0,11.0,10.4,9.8, 11.2,10.4,12.0,10.2,10.6,11.4,10.2,10.8,11.6,10.9, 10.4,11.6,10.2,13.0,10.6,11.6,10.8,11.2,12.0,11.2, 10.8,11.8,12.7,11.4,12.2,10.8,11.4,12.4,11.0,11.6, 12.6,11.8,11.0,11.8,10.6,11.2,9.7,10.4,11.8,11.2];
const prDjfHA = [10.0,11.5,13.0,11.5,12.0,10.8,11.0,12.0,10.5,11.5, 11.0,10.5,11.0,12.0,11.0,12.5,13.0,12.0,11.0,10.8, 11.5,14.0,12.0,11.2,12.0,12.5,13.5,11.8,11.0,12.0, 11.2,12.2,11.2,11.8,11.0,12.5,13.0,12.0,12.5,13.2, 12.2,13.8,12.8,14.0,12.5,13.2,12.8,14.0,13.2,12.5, 14.0,13.2,15.0,13.0,13.5,14.5,13.0,13.8,14.8,14.0, 13.2,14.8,13.0,16.0,13.5,14.8,13.8,14.2,15.2,14.2, 13.8,15.0,16.0,14.5,15.5,13.8,14.5,15.8,14.0,14.8, 16.0,15.0,14.0,15.0,13.5,14.2,12.5,13.5,15.0,14.2];
const prDjfLA = [5.0,6.0,7.0,6.0,6.5,5.5,5.8,6.2,5.0,6.0, 5.5,5.0,5.5,6.2,5.5,6.5,7.0,6.0,5.5,5.2, 6.0,8.0,6.2,5.8,6.2,6.5,7.5,6.0,5.5,6.2, 5.5,6.5,5.5,6.0,5.5,6.5,7.0,6.0,6.5,7.0, 6.5,7.5,6.8,8.0,6.5,7.0,6.8,7.8,7.0,6.5, 7.8,7.0,8.5,7.0,7.2,8.0,7.0,7.5,8.2,7.5, 7.0,8.2,7.0,9.0,7.2,8.2,7.5,7.8,8.5,7.8, 7.5,8.5,9.0,8.0,8.8,7.5,8.0,9.0,7.5,8.2, 9.0,8.5,7.5,8.5,7.2,8.0,6.5,7.0,8.5,8.0];

// ---------- Wind DJF ----------
const windDjfMB = [4.4,4.36,4.32,4.34,4.3,4.33,4.31,4.38,4.3,4.35, 4.31,4.33,4.29,4.35,4.32,4.3,4.4,4.33,4.31,4.34, 4.3,4.32,4.28,4.33,4.3,4.35,4.31,4.29,4.32,4.3, 4.33,4.29,4.31,4.28,4.32,4.3,4.34,4.29,4.31,4.27, 4.3,4.32,4.28,4.31,4.26,4.3,4.28,4.32,4.27,4.29, 4.26,4.3,4.27,4.31,4.28,4.25,4.29,4.26,4.3,4.27, 4.25,4.28,4.24,4.27,4.23,4.26,4.24,4.2,4.23,4.25, 4.22,4.24,4.21,4.28,4.22,4.24,4.2,4.23,4.21,4.22, 4.24,4.2,4.22,4.19,4.23,4.21,4.2,4.22,4.21,4.25];
const windDjfHB = [6.4,6.3,6.0,6.35,6.4,6.1,6.3,6.2,6.45,6.3, 6.1,6.35,6.55,6.2,6.3,6.0,6.4,6.25,6.1,6.35, 6.5,6.2,6.6,6.3,6.1,6.25,6.4,6.0,6.3,6.15, 6.35,6.75,6.2,6.4,6.1,6.3,6.45,6.2,6.35,6.1, 6.3,6.5,6.15,6.35,6.6,6.2,6.4,6.0,6.3,6.45, 6.2,6.4,6.1,6.3,6.5,6.8,6.2,6.35,6.1,6.4, 6.25,6.45,6.1,6.3,6.55,6.2,6.4,6.0,6.3,6.2, 6.4,6.1,6.3,6.5,6.2,6.35,6.05,6.3,6.45,6.2, 6.35,6.1,6.3,6.2,6.4,6.05,6.3,6.2,6.35,6.3];
const windDjfLB = [2.8,2.72,2.85,2.9,2.75,2.82,2.7,2.88,2.78,2.84, 2.76,2.9,2.8,2.72,2.85,2.78,2.92,2.8,2.74,2.86, 2.8,2.75,2.88,2.82,2.7,2.85,2.78,2.9,2.8,2.74, 2.86,2.78,2.82,2.72,2.88,2.8,2.76,2.9,2.8,2.84, 2.75,2.82,2.88,2.78,2.84,2.72,2.86,2.8,2.76,2.9, 2.8,2.74,2.85,2.8,2.9,2.78,2.82,2.72,2.86,2.8, 2.76,2.88,2.8,2.84,2.74,2.82,2.78,2.9,2.8,2.76, 2.84,2.78,2.72,2.86,2.8,2.75,2.88,2.8,2.74,2.82, 2.78,2.84,2.76,2.82,2.72,2.86,2.8,2.78,2.84,2.8];
const windDjfMA = [4.02,3.98,3.95,3.97,3.93,3.96,3.94,4.0,3.92,3.96, 3.94,3.96,3.9,3.97,3.95,3.93,4.0,3.95,3.92,3.96, 3.93,3.95,3.9,3.96,3.93,3.98,3.94,3.91,3.95,3.92, 3.96,3.91,3.94,3.9,3.95,3.92,3.96,3.91,3.93,3.89, 3.92,3.95,3.9,3.93,3.88,3.92,3.9,3.94,3.89,3.91, 3.88,3.92,3.89,3.93,3.9,3.87,3.91,3.88,3.92,3.89, 3.87,3.9,3.86,3.89,3.85,3.88,3.86,3.82,3.85,3.87, 3.84,3.86,3.83,3.88,3.83,3.85,3.81,3.84,3.82,3.83, 3.84,3.8,3.82,3.79,3.82,3.8,3.79,3.81,3.8,3.83];
const windDjfHA = [4.12,4.08,4.05,4.07,4.03,4.06,4.04,4.1,4.02,4.06, 4.04,4.06,4.0,4.07,4.05,4.03,4.1,4.05,4.02,4.06, 4.03,4.05,4.0,4.06,4.03,4.08,4.04,4.01,4.05,4.02, 4.06,4.01,4.04,4.0,4.05,4.02,4.06,4.01,4.03,3.99, 4.02,4.05,4.0,4.03,3.98,4.02,4.0,4.04,3.99,4.01, 3.98,4.02,3.99,4.03,4.0,3.97,4.01,3.98,4.02,3.99, 3.97,4.0,3.96,3.99,3.95,3.98,3.96,3.92,3.95,3.97, 3.94,3.96,3.93,3.98,3.93,3.95,3.91,3.94,3.92,3.93, 3.94,3.9,3.92,3.89,3.92,3.9,3.89,3.91,3.9,3.93];
const windDjfLA = [3.9,3.87,3.84,3.86,3.82,3.85,3.83,3.89,3.81,3.85, 3.83,3.85,3.79,3.86,3.84,3.82,3.89,3.84,3.81,3.85, 3.82,3.84,3.79,3.85,3.82,3.87,3.83,3.8,3.84,3.81, 3.85,3.8,3.83,3.79,3.84,3.81,3.85,3.8,3.82,3.78, 3.81,3.84,3.79,3.82,3.77,3.81,3.79,3.83,3.78,3.8, 3.77,3.81,3.78,3.82,3.79,3.76,3.8,3.77,3.81,3.78, 3.76,3.79,3.75,3.78,3.74,3.77,3.75,3.71,3.74,3.76, 3.73,3.75,3.72,3.77,3.72,3.74,3.7,3.73,3.71,3.72, 3.73,3.69,3.71,3.68,3.71,3.69,3.68,3.7,3.69,3.72];

// ---------- Tmax JJA ----------
const tmaxJjaMB = [16.15,16.2,16.2,16.25,16.3,16.25,16.35,16.5,16.45,16.4, 16.45,16.5,16.4,16.55,16.45,16.7,16.75,16.8,16.9,16.95, 16.95,17.0,17.05,17.0,17.05,17.0,17.1,17.05,17.15,17.2, 17.3,17.35,17.3,17.4,17.45,17.5,17.55,17.5,17.6,17.55, 17.65,17.6,17.7,17.75,17.7,17.8,17.75,17.85,17.8,17.9, 17.85,17.95,18.0,17.95,18.05,18.1,18.05,18.15,18.2,18.15, 18.25,18.2,18.3,18.25,18.3,18.45,18.15,18.3,18.35,18.3, 18.35,18.3,18.4,18.35,18.4,18.45,18.4,18.45,18.5,18.45, 18.5,18.45,18.55,18.5,18.5,18.55,18.5,18.55,18.5,18.55];
const tmaxJjaHB = [16.5,16.55,16.5,16.6,16.65,16.6,16.7,16.85,16.8,16.75, 16.8,16.9,16.75,16.95,16.85,17.1,17.15,17.25,17.35,17.4, 17.4,17.45,17.5,17.45,17.5,17.45,17.6,17.5,17.65,17.7, 17.8,17.85,17.8,17.95,18.0,18.05,18.1,18.05,18.15,18.1, 18.2,18.15,18.25,18.3,18.25,18.4,18.3,18.45,18.4,18.5, 18.45,18.55,18.6,18.55,18.65,18.7,18.65,18.75,18.8,18.75, 18.85,18.8,18.9,18.85,18.9,19.1,18.8,18.9,18.95,18.9, 18.95,18.9,19.0,18.95,19.0,19.05,19.0,19.05,19.15,19.05, 19.1,19.05,19.15,19.1,19.1,19.2,19.1,19.15,19.1,19.2];
const tmaxJjaLB = [15.8,15.85,15.85,15.9,15.95,15.9,16.0,16.15,16.1,16.05, 16.1,16.1,16.0,16.15,16.05,16.3,16.35,16.4,16.5,16.55, 16.5,16.55,16.6,16.5,16.55,16.5,16.6,16.55,16.65,16.7, 16.8,16.8,16.75,16.85,16.9,16.95,17.0,16.9,17.05,16.95, 17.1,17.0,17.15,17.2,17.1,17.25,17.15,17.3,17.2,17.3, 17.25,17.35,17.4,17.3,17.45,17.5,17.4,17.55,17.6,17.5, 17.65,17.55,17.7,17.6,17.65,17.85,17.5,17.65,17.7,17.6, 17.7,17.6,17.75,17.65,17.75,17.8,17.7,17.8,17.85,17.75, 17.85,17.75,17.9,17.8,17.85,17.9,17.8,17.9,17.8,17.9];
const tmaxJjaMA = [14.95,14.95,15.0,15.05,15.0,15.1,15.05,15.2,15.15,15.1, 15.2,15.25,15.2,15.3,15.35,15.45,15.5,15.6,15.55,15.65, 15.7,15.75,15.7,15.75,15.8,15.75,15.85,15.8,15.9,15.95, 16.0,16.05,16.1,16.15,16.2,16.25,16.3,16.25,16.35,16.3, 16.4,16.35,16.45,16.5,16.45,16.55,16.5,16.6,16.55,16.65, 16.6,16.7,16.75,16.7,16.8,16.85,16.8,16.9,16.95,16.9, 17.0,16.95,17.05,17.0,17.05,17.2,16.9,17.05,17.1,17.05, 17.05,17.1,17.05,17.1,17.15,17.1,17.15,17.2,17.15,17.2, 17.2,17.15,17.25,17.2,17.25,17.3,17.25,17.3,17.25,17.3];
const tmaxJjaHA = [15.3,15.3,15.35,15.4,15.35,15.45,15.4,15.55,15.5,15.45, 15.55,15.6,15.55,15.7,15.75,15.85,15.9,16.0,15.95,16.05, 16.1,16.2,16.1,16.2,16.25,16.2,16.3,16.25,16.35,16.4, 16.45,16.5,16.55,16.65,16.7,16.75,16.8,16.75,16.85,16.8, 16.9,16.85,16.95,17.0,16.95,17.05,17.0,17.1,17.05,17.15, 17.1,17.2,17.25,17.2,17.3,17.35,17.3,17.4,17.45,17.4, 17.5,17.45,17.55,17.5,17.55,17.7,17.4,17.55,17.6,17.55, 17.6,17.65,17.6,17.65,17.7,17.65,17.7,17.75,17.7,17.75, 17.75,17.7,17.8,17.75,17.8,17.85,17.8,17.85,17.8,17.85];
const tmaxJjaLA = [14.55,14.5,14.55,14.6,14.5,14.6,14.55,14.7,14.65,14.6, 14.7,14.75,14.65,14.8,14.85,14.9,14.95,15.05,15.0,15.1, 15.15,15.2,15.1,15.2,15.25,15.15,15.3,15.2,15.3,15.35, 15.4,15.45,15.5,15.55,15.6,15.6,15.65,15.6,15.7,15.6, 15.75,15.65,15.8,15.85,15.75,15.85,15.8,15.9,15.85,15.95, 15.9,16.0,16.05,15.95,16.05,16.1,16.0,16.15,16.2,16.1, 16.2,16.15,16.25,16.2,16.2,16.35,16.05,16.2,16.25,16.2, 16.2,16.25,16.2,16.25,16.3,16.25,16.3,16.35,16.3,16.35, 16.35,16.3,16.4,16.35,16.4,16.45,16.4,16.45,16.4,16.45];

// ---------- Tmin JJA ----------
const tminJjaMB = [3.65,3.6,3.7,3.65,3.75,3.7,3.8,3.85,3.9,3.95, 3.95,4.0,3.95,4.0,4.0,4.2,4.15,4.1,4.2,4.25, 4.3,4.25,4.35,4.3,4.35,4.4,4.35,4.5,4.45,4.6, 4.6,4.7,4.75,4.8,4.85,4.8,4.95,4.9,5.0,4.95, 5.05,5.1,5.05,5.15,5.2,5.15,5.25,5.2,5.3,5.25, 5.35,5.4,5.35,5.45,5.4,5.5,5.45,5.55,5.5,5.55, 5.6,5.55,5.65,5.6,5.7,5.65,5.75,5.7,5.65,5.7, 5.75,5.7,5.75,5.8,5.7,5.75,5.8,5.75,5.8,5.75, 5.8,5.85,5.8,5.85,5.9,5.85,5.85,5.9,5.85,5.8];
const tminJjaHB = [3.95,3.9,4.0,3.95,4.1,4.0,4.15,4.2,4.25,4.3, 4.3,4.4,4.3,4.4,4.45,4.65,4.55,4.5,4.65,4.7, 4.8,4.7,4.85,4.8,4.85,4.95,4.85,5.05,5.0,5.15, 5.15,5.3,5.3,5.4,5.45,5.4,5.55,5.5,5.6,5.55, 5.65,5.7,5.65,5.8,5.85,5.75,5.9,5.85,5.95,5.9, 6.0,6.05,5.95,6.1,6.0,6.15,6.05,6.2,6.1,6.2, 6.25,6.15,6.3,6.2,6.35,6.25,6.4,6.3,6.25,6.3, 6.35,6.3,6.35,6.4,6.25,6.35,6.4,6.3,6.4,6.35, 6.4,6.45,6.35,6.45,6.5,6.4,6.4,6.45,6.4,6.35];
const tminJjaLB = [3.35,3.3,3.4,3.35,3.45,3.4,3.5,3.55,3.6,3.6, 3.6,3.65,3.6,3.65,3.65,3.85,3.8,3.75,3.85,3.85, 3.9,3.85,3.95,3.9,3.9,3.95,3.9,4.05,4.0,4.1, 4.1,4.2,4.25,4.3,4.3,4.25,4.4,4.35,4.45,4.4, 4.5,4.55,4.5,4.6,4.65,4.6,4.7,4.65,4.75,4.7, 4.8,4.85,4.8,4.9,4.85,4.95,4.9,5.0,4.95,5.0, 5.05,5.0,5.1,5.05,5.15,5.1,5.2,5.15,5.1,5.15, 5.2,5.15,5.2,5.25,5.15,5.2,5.25,5.2,5.25,5.2, 5.25,5.3,5.25,5.3,5.35,5.3,5.3,5.35,5.3,5.25];
const tminJjaMA = [3.3,3.25,3.3,3.3,3.4,3.35,3.4,3.5,3.55,3.55, 3.6,3.65,3.6,3.7,3.65,3.9,3.85,3.8,3.9,3.95, 4.0,3.95,4.05,4.0,4.05,4.1,4.05,4.2,4.15,4.25, 4.25,4.35,4.4,4.45,4.5,4.45,4.55,4.5,4.6,4.55, 4.65,4.7,4.65,4.75,4.8,4.75,4.85,4.8,4.9,4.85, 4.95,5.0,4.95,5.05,5.0,5.1,5.05,5.15,5.1,5.15, 5.2,5.15,5.25,5.2,5.3,5.25,5.4,5.3,5.25,5.3, 5.35,5.3,5.35,5.4,5.3,5.35,5.4,5.4,5.45,5.4, 5.45,5.5,5.45,5.5,5.55,5.5,5.5,5.55,5.5,5.45];
const tminJjaHA = [3.55,3.5,3.6,3.55,3.65,3.6,3.7,3.8,3.85,3.85, 3.9,3.95,3.9,4.0,3.95,4.2,4.15,4.1,4.2,4.25, 4.3,4.25,4.35,4.3,4.35,4.45,4.35,4.5,4.45,4.55, 4.6,4.7,4.75,4.8,4.85,4.8,4.9,4.85,4.95,4.9, 5.0,5.05,5.0,5.1,5.15,5.1,5.2,5.15,5.25,5.2, 5.3,5.35,5.3,5.4,5.35,5.45,5.4,5.5,5.45,5.5, 5.55,5.5,5.6,5.55,5.65,5.6,5.75,5.65,5.6,5.65, 5.7,5.65,5.7,5.75,5.65,5.7,5.75,5.75,5.8,5.75, 5.8,5.85,5.8,5.85,5.9,5.85,5.85,5.9,5.85,5.8];
const tminJjaLA = [3.0,2.95,3.0,3.0,3.1,3.05,3.1,3.2,3.25,3.25, 3.3,3.3,3.25,3.35,3.3,3.55,3.5,3.45,3.5,3.55, 3.6,3.55,3.65,3.6,3.65,3.7,3.6,3.75,3.7,3.8, 3.8,3.9,3.9,3.95,4.0,3.95,4.05,4.0,4.1,4.0, 4.1,4.15,4.1,4.2,4.25,4.2,4.3,4.25,4.35,4.3, 4.4,4.45,4.4,4.5,4.45,4.55,4.5,4.6,4.55,4.6, 4.65,4.6,4.7,4.65,4.75,4.7,4.85,4.75,4.7,4.75, 4.8,4.75,4.8,4.85,4.75,4.8,4.85,4.85,4.9,4.85, 4.9,4.95,4.9,4.95,5.0,4.95,4.9,4.95,4.9,4.85];

// ---------- Pr JJA ----------
const prJjaMB = [250,246,240,237,245,246,240,234,229,236, 240,246,250,244,260,250,247,252,254,248, 252,258,264,254,258,260,252,256,260,266, 258,271,276,264,267,260,266,258,264,268, 270,266,276,285,271,274,278,274,270,282, 276,278,289,270,272,278,280,276,282,278, 280,284,282,285,290,286,298,292,290,287, 292,296,302,294,298,296,292,284,272,288, 290,292,286,282,285,292,300,318,296,288];
const prJjaHB = [272,266,258,254,264,262,258,252,248,255, 258,266,278,262,280,270,266,272,276,268, 274,280,286,276,280,285,274,280,286,292, 282,296,302,290,294,286,292,284,290,296, 298,292,304,314,298,300,306,300,296,310, 302,306,318,298,300,308,310,304,312,308, 310,314,312,316,322,316,330,322,320,316, 322,326,334,324,330,326,322,314,300,318, 320,324,316,312,316,324,334,340,330,320];
const prJjaLB = [228,230,222,218,226,226,220,215,213,218, 220,226,228,222,236,228,224,228,230,224, 228,232,240,228,232,234,224,216,234,240, 232,244,248,236,240,232,238,230,236,240, 242,238,248,256,242,244,248,244,240,252, 244,246,254,236,238,244,248,242,248,244, 246,250,248,250,254,248,258,252,250,246, 252,255,260,252,256,250,246,240,236,246, 248,252,244,238,240,248,254,258,250,246];
const prJjaMA = [252,254,246,241,248,250,244,238,234,240, 243,250,254,248,265,254,250,256,258,252, 256,262,269,258,262,265,256,260,264,271, 262,276,280,268,272,265,270,262,268,272, 274,270,280,289,275,278,282,278,274,286, 280,282,293,273,276,282,284,280,286,282, 284,288,286,289,294,290,302,296,294,291, 296,300,306,298,302,300,296,288,276,292, 294,297,290,286,289,296,304,315,300,293];
const prJjaHA = [268,272,262,256,266,268,262,255,250,258, 262,268,274,266,285,272,268,276,280,272, 276,282,290,278,284,288,278,282,288,296, 285,300,306,292,298,290,296,286,294,298, 300,296,306,318,302,304,310,305,300,314, 306,310,322,300,304,312,314,308,316,312, 314,318,316,320,325,320,334,326,324,320, 326,330,338,328,334,330,326,318,305,322, 324,328,320,316,320,328,336,342,332,324];
const prJjaLA = [232,234,226,222,228,230,224,218,215,220, 222,228,232,226,240,230,226,232,234,228, 232,236,244,232,236,238,230,234,238,244, 236,248,252,240,244,236,242,234,240,244, 246,242,252,260,246,248,252,248,244,256, 245,248,256,238,240,246,250,244,250,246, 248,252,250,252,256,250,262,256,254,250, 254,258,262,256,260,255,250,245,240,250, 252,256,248,242,245,252,258,262,254,250];

// ---------- Wind JJA ----------
const windJjaMB = [3.13,3.1,3.08,3.11,3.07,3.09,3.06,3.08,3.1,3.07, 3.09,3.06,3.08,3.05,3.07,3.06,3.08,3.05,3.07,3.06, 3.08,3.05,3.07,3.1,3.06,3.04,3.07,3.05,3.06,3.04, 3.06,3.05,3.07,3.04,3.06,3.05,3.07,3.05,3.06,3.04, 3.07,3.05,3.06,3.04,3.06,3.05,3.07,3.06,3.08,3.05, 3.06,3.04,3.07,3.05,3.04,3.06,3.05,3.07,3.04,3.06, 3.05,3.07,3.04,3.06,3.05,3.08,3.05,3.06,3.04,3.06, 3.05,3.07,3.04,3.06,3.05,3.04,3.06,3.05,3.04,3.06, 3.05,3.04,3.06,3.03,3.05,3.04,3.02,3.03,3.01,3.03];
const windJjaHB = [4.25,4.2,4.28,4.22,4.18,4.26,4.3,4.2,4.24,4.15, 4.27,4.22,4.3,4.19,4.25,4.21,4.28,4.17,4.24,4.3, 4.2,4.26,4.18,4.28,4.22,4.25,4.16,4.27,4.21,4.29, 4.23,4.18,4.26,4.22,4.3,4.2,4.25,4.17,4.28,4.22, 4.26,4.2,4.29,4.24,4.18,4.27,4.22,4.3,4.2,4.25, 4.19,4.27,4.22,4.29,4.24,4.18,4.26,4.22,4.3,4.2, 4.25,4.2,4.28,4.23,4.17,4.26,4.21,4.29,4.24,4.2, 4.27,4.22,4.3,4.2,4.25,4.18,4.28,4.23,4.26,4.2, 4.29,4.24,4.2,4.27,4.22,4.3,4.25,4.2,4.28,4.24];
const windJjaLB = [2.16,2.2,2.14,2.18,2.22,2.15,2.19,2.13,2.17,2.21, 2.15,2.19,2.14,2.2,2.16,2.22,2.14,2.18,2.15,2.19, 2.21,2.15,2.18,2.13,2.2,2.16,2.22,2.15,2.19,2.14, 2.18,2.2,2.15,2.19,2.13,2.21,2.16,2.2,2.14,2.18, 2.15,2.21,2.17,2.14,2.2,2.16,2.22,2.15,2.19,2.13, 2.2,2.15,2.18,2.22,2.14,2.19,2.16,2.21,2.15,2.18, 2.14,2.2,2.16,2.19,2.22,2.15,2.18,2.13,2.2,2.16, 2.19,2.15,2.21,2.16,2.18,2.14,2.2,2.17,2.13,2.19, 2.16,2.2,2.14,2.19,2.15,2.21,2.17,2.14,2.2,2.16];
const windJjaMA = [3.73,3.68,3.65,3.64,3.62,3.64,3.61,3.66,3.62,3.63, 3.61,3.63,3.6,3.62,3.61,3.64,3.6,3.62,3.61,3.63, 3.6,3.62,3.64,3.61,3.63,3.58,3.62,3.6,3.61,3.6, 3.62,3.6,3.63,3.59,3.61,3.6,3.62,3.6,3.61,3.59, 3.61,3.6,3.62,3.59,3.61,3.63,3.6,3.62,3.61,3.64, 3.62,3.65,3.61,3.63,3.6,3.62,3.64,3.61,3.6,3.63, 3.61,3.64,3.6,3.66,3.61,3.63,3.6,3.62,3.61,3.6, 3.62,3.6,3.61,3.59,3.61,3.6,3.58,3.6,3.59,3.58, 3.6,3.58,3.59,3.57,3.58,3.56,3.55,3.57,3.56,3.58];
const windJjaHA = [3.77,3.72,3.69,3.68,3.66,3.68,3.65,3.7,3.66,3.67, 3.65,3.67,3.64,3.66,3.65,3.68,3.64,3.66,3.65,3.67, 3.64,3.66,3.68,3.65,3.67,3.62,3.66,3.64,3.65,3.64, 3.66,3.64,3.67,3.63,3.65,3.64,3.66,3.64,3.65,3.63, 3.65,3.64,3.66,3.63,3.65,3.67,3.64,3.66,3.65,3.68, 3.66,3.69,3.65,3.67,3.64,3.66,3.68,3.65,3.64,3.67, 3.65,3.68,3.64,3.7,3.65,3.67,3.64,3.66,3.65,3.64, 3.66,3.64,3.65,3.63,3.65,3.64,3.62,3.64,3.63,3.62, 3.64,3.62,3.63,3.61,3.62,3.6,3.59,3.61,3.6,3.62];
const windJjaLA = [3.69,3.64,3.61,3.6,3.58,3.6,3.57,3.62,3.58,3.59, 3.57,3.59,3.56,3.58,3.57,3.6,3.56,3.58,3.57,3.59, 3.56,3.58,3.6,3.57,3.59,3.54,3.58,3.56,3.57,3.56, 3.58,3.56,3.59,3.55,3.57,3.56,3.58,3.56,3.57,3.55, 3.57,3.56,3.58,3.55,3.57,3.59,3.56,3.58,3.57,3.6, 3.58,3.61,3.57,3.59,3.56,3.58,3.6,3.57,3.56,3.59, 3.57,3.6,3.56,3.62,3.57,3.59,3.56,3.58,3.57,3.56, 3.58,3.56,3.57,3.55,3.57,3.56,3.54,3.56,3.55,3.54, 3.56,3.54,3.55,3.53,3.54,3.52,3.51,3.53,3.52,3.54];

// panel order: row by row
const panels = [
  [tmaxAnnMB, tmaxAnnMA, tmaxAnnLB, tmaxAnnHB, tmaxAnnLA, tmaxAnnHA, tmaxAnnTicks],
  [tminAnnMB, tminAnnMA, tminAnnLB, tminAnnHB, tminAnnLA, tminAnnHA, tminAnnTicks],
  [prAnnMB, prAnnMA, prAnnLB, prAnnHB, prAnnLA, prAnnHA, prAnnTicks],
  [windAnnMB, windAnnMA, windAnnLB, windAnnHB, windAnnLA, windAnnHA, windAnnTicks],
  [tmaxDjfMB, tmaxDjfMA, tmaxDjfLB, tmaxDjfHB, tmaxDjfLA, tmaxDjfHA, tmaxDjfTicks],
  [tminDjfMB, tminDjfMA, tminDjfLB, tminDjfHB, tminDjfLA, tminDjfHA, tminDjfTicks],
  [prDjfMB, prDjfMA, prDjfLB, prDjfHB, prDjfLA, prDjfHA, prDjfTicks],
  [windDjfMB, windDjfMA, windDjfLB, windDjfHB, windDjfLA, windDjfHA, windDjfTicks],
  [tmaxJjaMB, tmaxJjaMA, tmaxJjaLB, tmaxJjaHB, tmaxJjaLA, tmaxJjaHA, tmaxJjaTicks],
  [tminJjaMB, tminJjaMA, tminJjaLB, tminJjaHB, tminJjaLA, tminJjaHA, tminJjaTicks],
  [prJjaMB, prJjaMA, prJjaLB, prJjaHB, prJjaLA, prJjaHA, prJjaTicks],
  [windJjaMB, windJjaMA, windJjaLB, windJjaHB, windJjaLA, windJjaHA, windJjaTicks]
];

// axis ranges (layout)
const yMin = [6.18, -7.45, 353, 2.52, -3.58, -18.62, 4.27, 2.58, 14.38, 2.93, 212, 2.09];
const yMax = [10.92, -3.21, 549, 5.44, 2.87, -13.11, 22.8, 6.91, 19.24, 6.56, 345, 4.33];

// ---------- layout & style ----------
const FONT = '"Liberation Serif", "Times New Roman", serif';
const TXT = '#262626';
const colLeft = [40, 259, 478, 699], colW = [192, 193, 194, 192];
const rowTop = [24, 137, 250], rowH = [100, 101, 102];
const colCenter = [136, 355.5, 575, 795];
const cB = '#D95319', cA = '#0072BD';
const fB = 'rgba(217,83,25,0.33)', fA = 'rgba(0,114,189,0.37)';
// legend line icon: a 2px bar centred in the 61x12 icon box
const lineIcon = 'path://M0,0L0.01,0M0,5H61V7H0ZM0,12L0.01,12';

const isTick = (idx, v) => xTicks.indexOf(Number(v)) >= 0;
const axLine = {show: true, onZero: false, lineStyle: {color: TXT, width: 1.6}};
const tickStyle = {color: TXT, width: 1};
const labelStyle = {color: TXT, fontFamily: FONT, fontSize: 14};

const grids = [], xAxes = [], yAxes = [], series = [];
panels.forEach((p, i) => {
  const r = Math.floor(i / 4), c = i % 4;
  const [mb, ma, lb, hb, la, ha, ticks] = p;
  grids.push({left: colLeft[c], top: rowTop[r], width: colW[c], height: rowH[r], show: false});
  xAxes.push({gridIndex: i, type: 'category', data: years, boundaryGap: false, position: 'bottom', z: 10,
    axisLine: axLine, axisTick: {inside: true, length: 4, interval: isTick, lineStyle: tickStyle},
    axisLabel: Object.assign({show: r === 2, interval: isTick, margin: 7}, labelStyle),
    splitLine: {show: false},
    name: r === 2 ? 'Year' : '', nameLocation: 'middle', nameGap: 20,
    nameTextStyle: {color: TXT, fontFamily: FONT, fontSize: 14.5}});
  xAxes.push({gridIndex: i, type: 'category', data: years, boundaryGap: false, position: 'top', z: 10,
    axisLine: axLine, axisTick: {inside: true, length: 4, interval: isTick, lineStyle: tickStyle},
    axisLabel: {show: false}, splitLine: {show: false}});
  yAxes.push({gridIndex: i, type: 'value', min: yMin[i], max: yMax[i], position: 'left', z: 10,
    axisLine: axLine, axisTick: {inside: true, length: 4, customValues: ticks, lineStyle: tickStyle},
    axisLabel: Object.assign({customValues: ticks, margin: 5}, labelStyle),
    splitLine: {show: false},
    name: c === 0 ? rowNames[r] : '', nameLocation: 'middle', nameGap: 19, nameRotate: 90,
    nameTextStyle: {color: TXT, fontFamily: FONT, fontSize: 15}});
  yAxes.push({gridIndex: i, type: 'value', min: yMin[i], max: yMax[i], position: 'right', z: 10,
    axisLine: axLine, axisTick: {inside: true, length: 4, customValues: ticks, lineStyle: tickStyle},
    axisLabel: {show: false}, splitLine: {show: false}});
  const base = {type: 'line', xAxisIndex: 2 * i, yAxisIndex: 2 * i, symbol: 'none', silent: true, animation: false, clip: true};
  const hidden = {width: 0, opacity: 0};
  series.push(Object.assign({}, base, {name: 'lowB' + i, stack: 'b' + i, stackStrategy: 'all', data: lb, lineStyle: hidden}));
  series.push(Object.assign({}, base, {name: legendNames[0], stack: 'b' + i, stackStrategy: 'all',
    data: hb.map((v, k) => v - lb[k]), lineStyle: hidden, itemStyle: {color: fB}, areaStyle: {color: fB, opacity: 1}}));
  series.push(Object.assign({}, base, {name: 'lowA' + i, stack: 'a' + i, stackStrategy: 'all', data: la, lineStyle: hidden}));
  series.push(Object.assign({}, base, {name: legendNames[1], stack: 'a' + i, stackStrategy: 'all',
    data: ha.map((v, k) => v - la[k]), lineStyle: hidden, itemStyle: {color: fA}, areaStyle: {color: fA, opacity: 1}}));
  series.push(Object.assign({}, base, {name: legendNames[2], data: mb, lineStyle: {color: cB, width: 2}, itemStyle: {color: cB}}));
  series.push(Object.assign({}, base, {name: legendNames[3], data: ma, lineStyle: {color: cA, width: 2}, itemStyle: {color: cA}}));
});

const titleText = (x, text, rich) => ({type: 'text', x: x, y: 15, silent: true,
  style: {text: text, align: 'center', verticalAlign: 'middle', fill: TXT, fontFamily: FONT, fontSize: 14.5, rich: rich}});

const chart = echarts.init(document.getElementById('c'), null, {renderer: 'canvas'});
chart.setOption({
  animation: false,
  backgroundColor: '#fff',
  grid: grids, xAxis: xAxes, yAxis: yAxes, series: series,
  legend: {left: 24, top: 392, width: 885, padding: 0, itemWidth: 61, itemHeight: 12, itemGap: 12, selectedMode: false,
    textStyle: {color: TXT, fontFamily: FONT, fontSize: 13.5},
    itemStyle: {borderWidth: 0},
    data: [{name: legendNames[0], icon: 'rect'}, {name: legendNames[1], icon: 'rect'},
           {name: legendNames[2], icon: lineIcon, itemStyle: {color: cB}},
           {name: legendNames[3], icon: lineIcon, itemStyle: {color: cA}}]},
  graphic: [
    titleText(colCenter[0], 'Tmax/°C'),
    titleText(colCenter[1], 'Tmin/°C'),
    titleText(colCenter[2], 'Pr/mm'),
    titleText(colCenter[3], '{n|Wind/(m·s}{s|-1}{n|)}', {
      n: {fontFamily: FONT, fontSize: 14.5, fill: TXT, lineHeight: 18, verticalAlign: 'bottom'},
      s: {fontFamily: FONT, fontSize: 9, fill: TXT, lineHeight: 18, verticalAlign: 'top', padding: [0, 0, 6, 0]}
    })
  ]
});
</script>
</body></html>
